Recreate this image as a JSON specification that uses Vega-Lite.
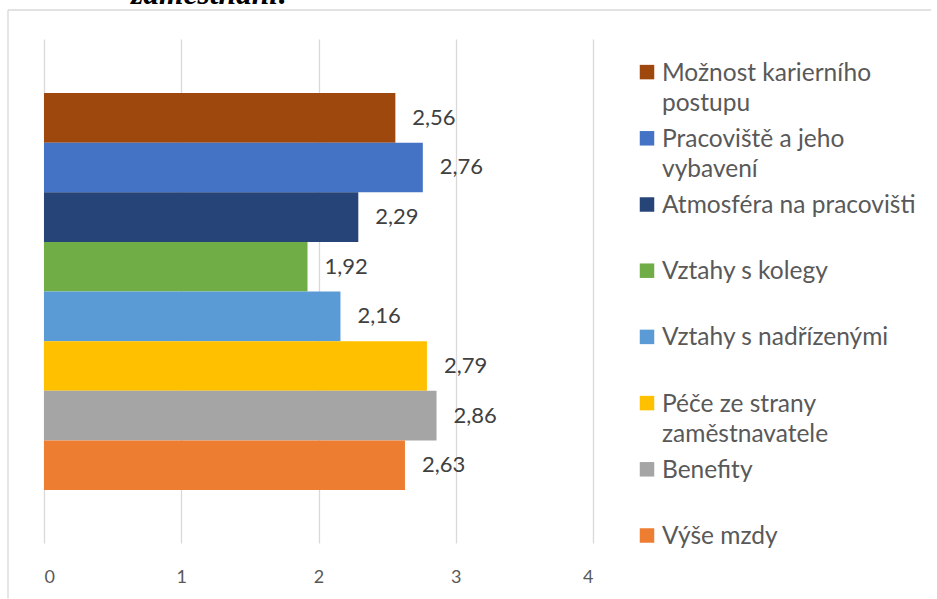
{
  "$schema": "https://vega.github.io/schema/vega-lite/v6.json",
  "autosize": {"type": "none"},
  "padding": {"left": 44, "top": 39, "right": 893, "bottom": 560},
  "bounds": "flush",
  "spacing": 54,
  "background": "white",
  "config": {
    "view": {"stroke": null},
    "locale": {"number": {"decimal": ",", "thousands": " ", "grouping": [3], "currency": ["", " Kč"]}},
    "font": "Lato"
  },
  "datasets": {
    "hodnoceni": [
      {"kategorie": "Možnost karierního postupu", "legenda": "Možnost karierního\npostupu", "hodnota": 2.56},
      {"kategorie": "Pracoviště a jeho vybavení", "legenda": "Pracoviště a jeho\nvybavení", "hodnota": 2.76},
      {"kategorie": "Atmosféra na pracovišti", "legenda": "Atmosféra na pracovišti", "hodnota": 2.29},
      {"kategorie": "Vztahy s kolegy", "legenda": "Vztahy s kolegy", "hodnota": 1.92},
      {"kategorie": "Vztahy s nadřízenými", "legenda": "Vztahy s nadřízenými", "hodnota": 2.16},
      {"kategorie": "Péče ze strany zaměstnavatele", "legenda": "Péče ze strany\nzaměstnavatele", "hodnota": 2.79},
      {"kategorie": "Benefity", "legenda": "Benefity", "hodnota": 2.86},
      {"kategorie": "Výše mzdy", "legenda": "Výše mzdy", "hodnota": 2.63}
    ],
    "ramecek": [
      {"x0": -0.2623, "x1": 6.463, "y0": 1.0575, "y1": 1.0575},
      {"x0": -0.2623, "x1": -0.2623, "y0": 1.0575, "y1": -0.11}
    ],
    "nadpis": [
      {"x": 0.634, "y": 1.0695, "text": "zaměstnaní:"}
    ]
  },
  "hconcat": [
    {
      "width": 549,
      "height": 504,
      "layer": [
        {
          "layer": [
            {
              "data": {"name": "ramecek"},
              "mark": {"type": "rule", "stroke": "#d9d9d9", "strokeWidth": 1.3, "clip": false},
              "encoding": {
                "x": {"field": "x0", "type": "quantitative", "scale": {"domain": [0, 4], "nice": false}},
                "x2": {"field": "x1"},
                "y": {"field": "y0", "type": "quantitative", "scale": {"domain": [0, 1], "nice": false, "zero": false}, "axis": null},
                "y2": {"field": "y1"}
              }
            },
            {
              "data": {"name": "nadpis"},
              "mark": {"type": "text", "align": "left", "baseline": "alphabetic", "font": "Liberation Serif", "fontStyle": "italic", "fontWeight": "bold", "fontSize": 31.5, "color": "#000000", "clip": false},
              "encoding": {
                "x": {"field": "x", "type": "quantitative"},
                "y": {"field": "y", "type": "quantitative"},
                "text": {"field": "text", "type": "nominal"}
              }
            }
          ]
        },
        {
          "data": {"name": "hodnoceni"},
          "encoding": {
            "y": {
              "field": "kategorie",
              "type": "nominal",
              "sort": null,
              "scale": {"paddingInner": 0, "paddingOuter": 0, "range": [54, 451]},
              "axis": null
            },
            "x": {
              "field": "hodnota",
              "type": "quantitative",
              "scale": {"domain": [0, 4], "nice": false},
              "axis": {
                "values": [0, 1, 2, 3, 4],
                "format": "d",
                "grid": true,
                "gridColor": "#d9d9d9",
                "gridWidth": 1.3,
                "domain": false,
                "ticks": false,
                "labelPadding": 25,
                "labelFontSize": 18,
                "labelColor": "#595959",
                "labelFont": "Lato",
                "title": null
              }
            }
          },
          "layer": [
            {
              "mark": {"type": "bar", "strokeWidth": 0},
              "encoding": {
                "color": {
                  "field": "kategorie",
                  "type": "nominal",
                  "scale": {
                    "domain": ["Možnost karierního postupu", "Pracoviště a jeho vybavení", "Atmosféra na pracovišti", "Vztahy s kolegy", "Vztahy s nadřízenými", "Péče ze strany zaměstnavatele", "Benefity", "Výše mzdy"],
                    "range": ["#9E480E", "#4472C4", "#264478", "#70AD47", "#5B9BD5", "#FFC000", "#A5A5A5", "#ED7D31"]
                  },
                  "legend": null
                }
              }
            },
            {
              "mark": {"type": "text", "align": "left", "baseline": "middle", "dx": 17, "fontSize": 22, "color": "#404040", "font": "Lato"},
              "encoding": {
                "text": {"field": "hodnota", "type": "quantitative", "format": ".2f"}
              }
            }
          ]
        }
      ],
      "resolve": {"scale": {"y": "independent"}}
    },
    {
      "width": 280,
      "height": 529.6,
      "data": {"name": "hodnoceni"},
      "encoding": {
        "y": {
          "field": "kategorie",
          "type": "nominal",
          "sort": null,
          "scale": {"paddingInner": 0, "paddingOuter": 0.0243},
          "axis": null
        },
        "x": {
          "datum": 0,
          "type": "quantitative",
          "scale": {"domain": [0, 1]},
          "axis": null
        }
      },
      "layer": [
        {
          "mark": {"type": "square", "size": 210, "filled": true, "opacity": 1},
          "encoding": {
            "color": {"field": "kategorie", "type": "nominal", "legend": null}
          }
        },
        {
          "mark": {"type": "text", "align": "left", "baseline": "alphabetic", "dx": 15, "dy": 8.5, "fontSize": 24.5, "lineHeight": 30, "lineBreak": "\n", "color": "#595959", "font": "Lato"},
          "encoding": {
            "text": {"field": "legenda", "type": "nominal"}
          }
        }
      ]
    }
  ]
}
